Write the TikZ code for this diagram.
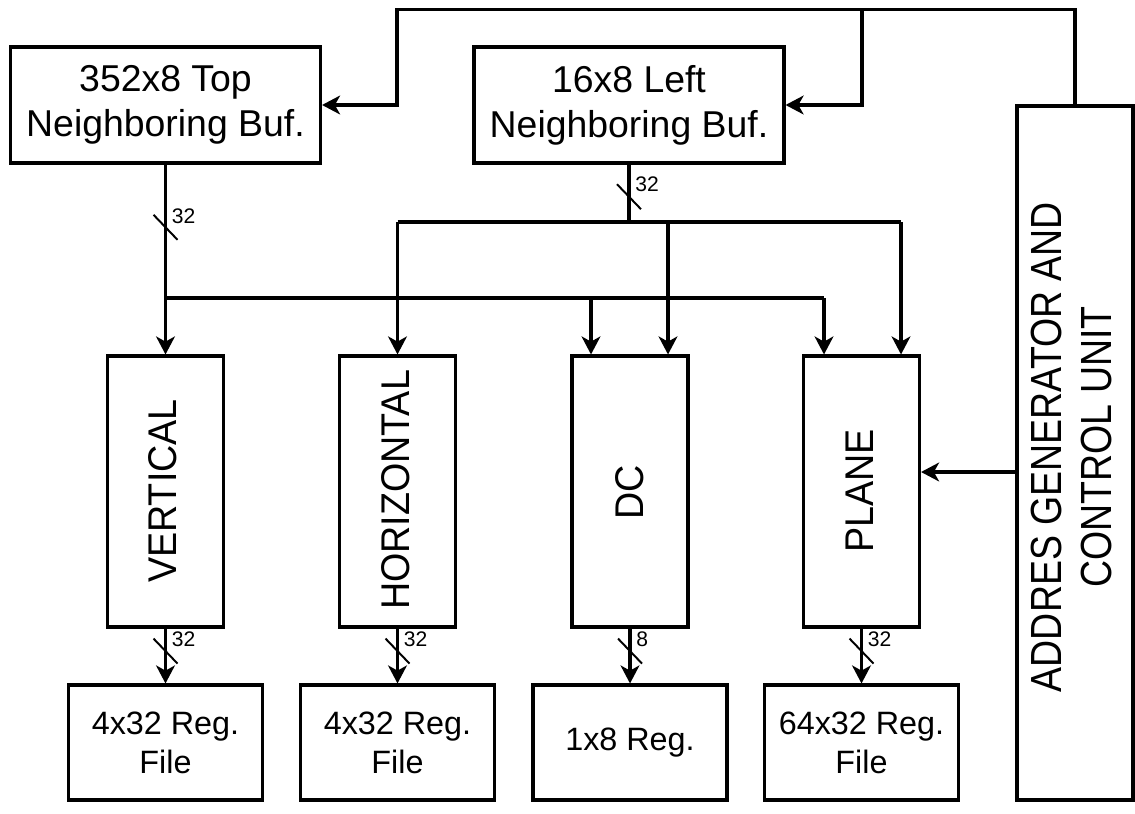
\documentclass[tikz,border=0pt]{standalone}
\usepackage{fontspec}
\setmainfont{Liberation Sans}
\usetikzlibrary{arrows.meta, positioning, calc}
\tikzset{
  blockbox/.style={draw=black, line width=2.2pt, inner sep=0pt},
  bufbox/.style={blockbox, minimum width=77.5mm, minimum height=29mm,
                 align=center, font=\fontsize{26.6}{32}\selectfont},
  predbox/.style={blockbox, minimum width=29mm, minimum height=67.75mm},
  predtext/.style={rotate=90, xscale=0.94, inner sep=0pt,
                 font=\fontsize{28.5}{34}\selectfont},
  regbox/.style={blockbox, minimum width=48.5mm, minimum height=28.75mm,
                 align=center, font=\fontsize{23}{27.6}\selectfont},
  ctlbox/.style={blockbox, minimum width=29mm, minimum height=173.5mm},
  ctltext/.style={rotate=90, xscale=0.86, align=center, inner sep=0pt,
                 font=\fontsize{31}{36}\selectfont},
  wire/.style={line width=2.2pt},
  busarrow/.style={line width=2.2pt, -{Stealth[length=4.5mm, width=4.7mm, inset=1.3mm]}},
  slash/.style={line width=1.4pt},
  widthlabel/.style={anchor=west, inner sep=0pt, font=\fontsize{15}{18}\selectfont},
}

\begin{document}
\begin{tikzpicture}[x=0.25mm, y=-0.25mm]
    \useasboundingbox (0,0) rectangle (1135,813);
    %% neighbouring buffers
    \node[bufbox] (topbuf)  at (165.5,105) {352x8 Top\\Neighboring Buf.};
    \node[bufbox] (leftbuf) at (629,105)   {16x8 Left\\Neighboring Buf.};
    %% prediction units
    \node[predbox] (vert)  at (165.5,491.5) {};
    \node[predbox] (horiz) at (397.5,491.5) {};
    \node[predbox] (dc)    at (630,491.5)   {};
    \node[predbox] (plane) at (861.5,491.5) {};
    \node[predtext] (vertT)  at (163,491)   {VERTICAL};
    \node[predtext] (horizT) at (396,490)   {HORIZONTAL};
    \node[predtext] (dcT)    at (630,492)   {DC};
    \node[predtext] (planeT) at (860,491)   {PLANE};
    %% register files
    \node[regbox] (regA) at (165.5,742.5) {4x32 Reg.\\File};
    \node[regbox] (regB) at (397.5,742.5) {4x32 Reg.\\File};
    \node[regbox] (regC) at (630,742.5)   {1x8 Reg.};
    \node[regbox] (regD) at (861.5,742.5) {64x32 Reg.\\File};
    %% control unit
    \node[ctlbox] (ctl) at (1075,453) {};
    \node[ctltext] (ctlT) at (1071.5,447) {ADDRES GENERATOR AND\\CONTROL UNIT};

    %% bus corners
    \coordinate (busT) at (165.5,298);
    \coordinate (dcA)  at (591,298);
    \coordinate (plA)  at (824,298);
    \coordinate (busL) at (629,222);
    \coordinate (hzB)  at (397.5,222);
    \coordinate (dcB)  at (668,222);
    \coordinate (plB)  at (901,222);
    \coordinate (ctlW)   at (397,9.5);
    \coordinate (ctlMid) at (862,9.5);
    \coordinate (ctlP)   at (1017,472);

    %% top buffer bus (32)
    \draw[wire] (topbuf.south) -- coordinate[pos=0.47] (wTop) (busT) -- (plA);
    \draw[slash] ([shift={(-12,-12.5)}]wTop) -- ([shift={(12,12.5)}]wTop);
    \node[widthlabel] (lblTop) at ([shift={(6,-11)}]wTop) {32};
    \draw[busarrow] (busT) -- (busT |- vert.north);
    \draw[busarrow] (dcA) -- (dcA |- dc.north);
    \draw[busarrow] (plA) -- (plA |- plane.north);
    %% left buffer bus (32)
    \draw[wire] (leftbuf.south) -- coordinate[pos=0.56] (wLeft) (busL);
    \draw[slash] ([shift={(-12,-12.5)}]wLeft) -- ([shift={(12,12.5)}]wLeft);
    \node[widthlabel] (lblLeft) at ([shift={(6,-12)}]wLeft) {32};
    \draw[wire] (hzB) -- (plB);
    \draw[busarrow] (hzB) -- (hzB |- horiz.north);
    \draw[busarrow] (dcB) -- (dcB |- dc.north);
    \draw[busarrow] (plB) -- (plB |- plane.north);
    %% outputs to the register files
    \foreach \src/\dst/\w in {vert/regA/32, horiz/regB/32, dc/regC/8, plane/regD/32} {
      \draw[busarrow] (\src.south) -- coordinate[pos=0.41] (m\src) (\dst.north);
      \draw[slash] ([shift={(-12,-12.5)}]m\src) -- ([shift={(12,12.5)}]m\src);
      \node[widthlabel] (lbl\src) at ([shift={(6,-12)}]m\src) {\w};
    }
    %% control lines
    \draw[busarrow] (ctl.north) -- (ctl.north |- ctlW) -- (ctlW) |- (topbuf.east);
    \draw[busarrow] (ctlMid) |- (leftbuf.east);
    \draw[busarrow] (ctlP) -- (ctlP -| plane.east);
\end{tikzpicture}
\end{document}
